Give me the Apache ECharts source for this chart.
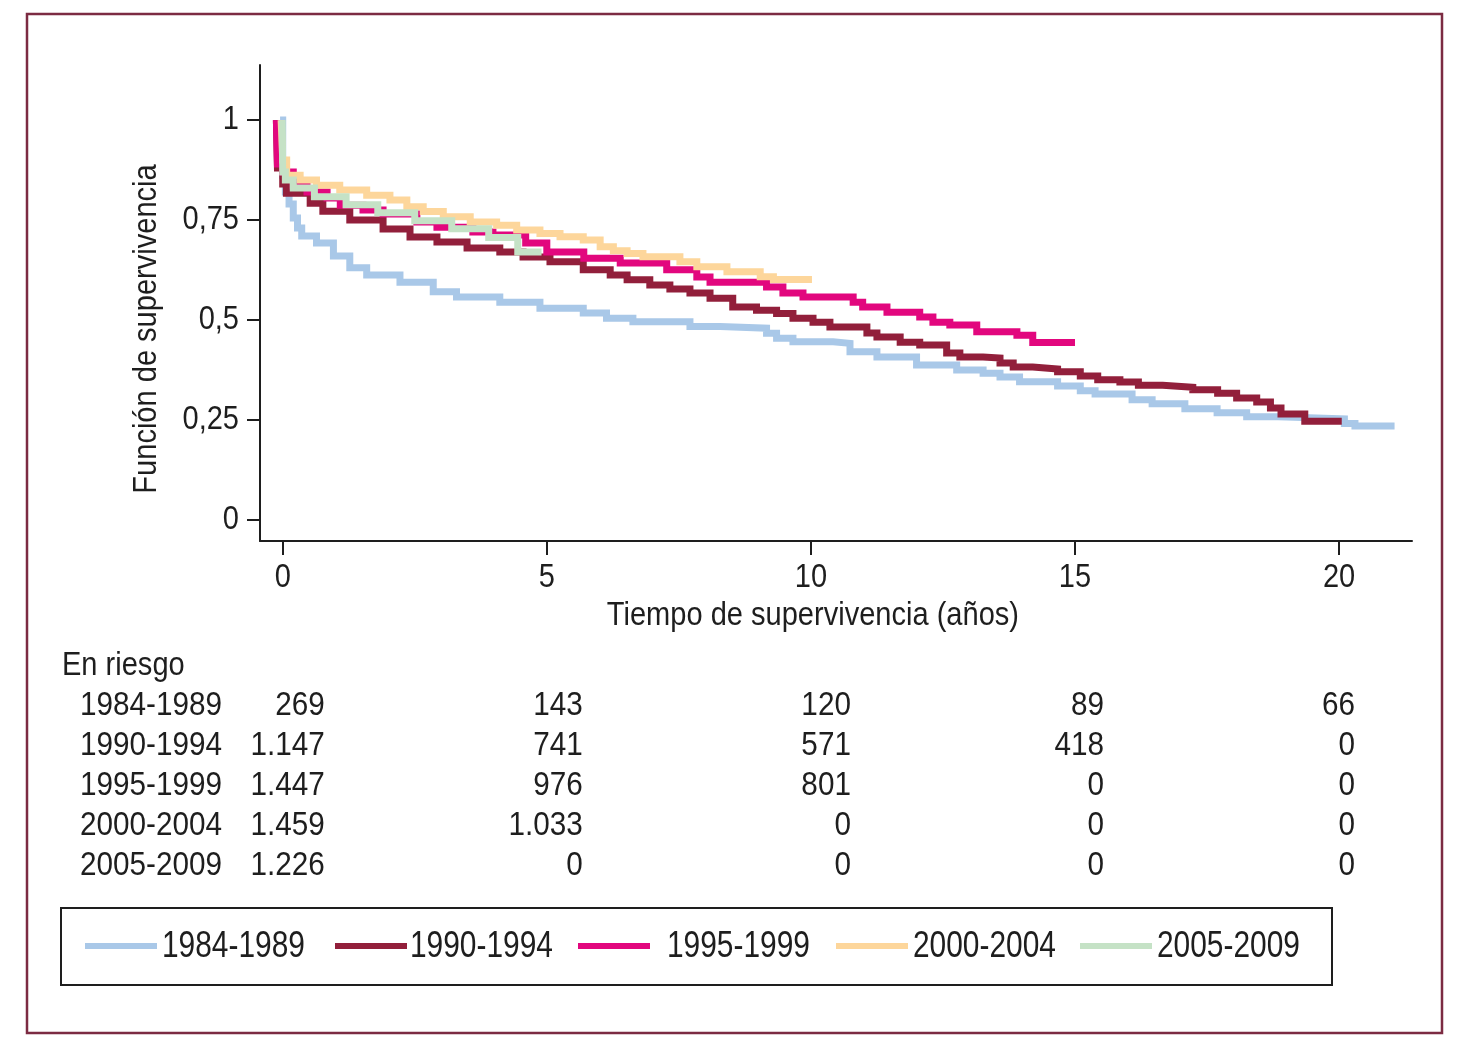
<!DOCTYPE html>
<html>
<head>
<meta charset="utf-8">
<script src="https://cdn.jsdelivr.net/npm/echarts@6/dist/echarts.min.js"></script>
<style>
html,body{margin:0;padding:0;background:#fff;}
#c{width:1470px;height:1062px;}
</style>
</head>
<body>
<div id="c"></div>
<script>
// ---- data ----
const periods = ['1984-1989','1990-1994','1995-1999','2000-2004','2005-2009'];
const colors = ['#a9c8e8','#921f3b','#e2077e','#fdd69b','#c5e2c6'];

const t1984 = [-0.05,0.0,0.05,0.12,0.2,0.28,0.36,0.64,0.96,1.27,1.59,2.22,2.85,3.29,4.11,4.87,5.69,6.13,6.63,7.71,8.28,9.16,9.35,9.66,10.42,10.74,11.25,12.0,12.76,13.26,13.58,13.95,14.67,15.1,15.38,16.08,16.46,17.08,17.69,18.25,18.84,20.1,20.3,21.05];
const s1984 = [1.0,0.862,0.82,0.79,0.755,0.73,0.71,0.692,0.66,0.63,0.612,0.594,0.57,0.557,0.544,0.529,0.517,0.504,0.495,0.483,0.479,0.466,0.454,0.445,0.441,0.42,0.407,0.387,0.374,0.366,0.357,0.345,0.334,0.322,0.314,0.30,0.29,0.277,0.267,0.257,0.252,0.24,0.234,0.234];

const t1990 = [-0.12,-0.1,0.0,0.07,0.52,0.76,1.27,1.9,2.41,2.92,3.49,4.11,4.55,5.06,5.69,6.2,6.52,6.95,7.33,7.71,8.09,8.52,8.97,9.35,9.66,10.04,10.36,11.06,11.25,11.69,12.06,12.57,12.82,13.26,13.58,13.83,14.2,14.67,15.1,15.43,15.85,16.2,16.66,17.23,17.7,18.06,18.44,18.7,18.9,19.35,20.05];
const s1990 = [1.0,0.88,0.84,0.817,0.792,0.772,0.75,0.727,0.707,0.695,0.68,0.67,0.657,0.645,0.625,0.612,0.6,0.587,0.577,0.567,0.554,0.532,0.524,0.516,0.504,0.494,0.482,0.467,0.457,0.444,0.437,0.417,0.407,0.404,0.392,0.382,0.377,0.37,0.359,0.35,0.344,0.336,0.331,0.325,0.316,0.304,0.294,0.279,0.264,0.246,0.246];

const t1995 = [-0.12,-0.1,0.0,0.2,0.46,0.84,1.09,1.52,1.9,2.54,2.92,3.6,3.98,4.6,5.0,5.7,6.39,7.27,7.84,8.09,9.16,9.47,9.85,10.8,10.98,11.44,12.06,12.31,12.63,13.14,13.9,14.2,15.0];
const s1995 = [1.0,0.89,0.87,0.837,0.82,0.805,0.787,0.775,0.765,0.745,0.732,0.72,0.712,0.692,0.67,0.654,0.642,0.625,0.607,0.594,0.582,0.567,0.557,0.544,0.532,0.519,0.507,0.494,0.487,0.47,0.461,0.443,0.443];

const t2000 = [-0.03,0.0,0.075,0.33,0.64,1.08,1.59,2.03,2.35,2.66,3.04,3.55,4.05,4.43,4.87,5.25,5.69,6.01,6.26,6.52,6.82,7.52,7.84,8.41,9.04,9.29,10.02];
const s2000 = [1.0,0.90,0.862,0.85,0.837,0.825,0.812,0.8,0.783,0.771,0.758,0.745,0.737,0.725,0.716,0.708,0.7,0.683,0.673,0.666,0.658,0.645,0.633,0.62,0.608,0.601,0.601];

const t2005 = [-0.01,0.0,0.05,0.2,0.6,1.2,1.8,2.5,3.2,3.9,4.45,4.9];
const s2005 = [1.0,0.87,0.85,0.83,0.808,0.788,0.768,0.748,0.728,0.706,0.67,0.67];

const seriesTimes = [t1984,t1990,t1995,t2000,t2005];
const seriesSurv = [s1984,s1990,s1995,s2000,s2005];

const xTicks = [0,5,10,15,20];
const xTickLabels = ['0','5','10','15','20'];
const yTicks = [0,0.25,0.5,0.75,1];
const yTickLabels = ['0','0,25','0,5','0,75','1'];

const riskTimes = [0,5,10,15,20];
const risk1984 = [269,143,120,89,66];
const risk1990 = [1147,741,571,418,0];
const risk1995 = [1447,976,801,0,0];
const risk2000 = [1459,1033,0,0,0];
const risk2005 = [1226,0,0,0,0];
const riskRows = [risk1984,risk1990,risk1995,risk2000,risk2005];

// ---- layout / style ----
const FONT = "'Liberation Sans',Arial,Helvetica,sans-serif";
const TXT = '#1e1e1e';
const SX = 0.88;       // horizontal condensation of the text
const FS = 33;
const fmtThousands = v => String(v).replace(/\B(?=(\d{3})+(?!\d))/g, '.');

const chart = echarts.init(document.getElementById('c'), null, {renderer:'canvas'});

const series = periods.map((name, i) => ({
  name: name,
  type: 'line',
  step: 'end',
  showSymbol: false,
  symbol: 'none',
  animation: false,
  lineStyle: {color: colors[i], width: 7, join: 'miter', cap: 'butt'},
  itemStyle: {color: colors[i]},
  data: seriesTimes[i].map((t, k) => [t, seriesSurv[i][k]]),
  z: 2 + i
}));

const option = {
  backgroundColor: '#fff',
  animation: false,
  grid: {left: 260, top: 65, right: 58, bottom: 521, containLabel: false},
  xAxis: {
    type: 'value', min: -0.43, max: 21.38,
    axisLine: {onZero: false, lineStyle: {color: '#1e1e1e', width: 2}},
    axisTick: {show: true, customValues: xTicks, length: 14, lineStyle: {color: '#1e1e1e', width: 2}},
    axisLabel: {show: false},
    splitLine: {show: false}
  },
  yAxis: {
    type: 'value', min: -0.054, max: 1.138,
    axisLine: {show: true, onZero: false, lineStyle: {color: '#1e1e1e', width: 2}},
    axisTick: {show: true, customValues: yTicks, length: 13, lineStyle: {color: '#1e1e1e', width: 2}},
    axisLabel: {show: false},
    splitLine: {show: false}
  },
  series: series
};
chart.setOption(option);

function txt(text, x, y, align, opts) {
  opts = opts || {};
  return {type:'text', x:x, y:y, scaleX: opts.sx || SX, scaleY: 1, rotation: opts.rot || 0, silent:true,
    style:{text:text, fill:TXT, font:(opts.fs || FS) + 'px ' + FONT, textAlign:align, textVerticalAlign:'middle'}};
}

const g = [];
// outer frame and legend frame
g.push({type:'rect', shape:{x:27, y:14, width:1415, height:1019}, style:{fill:'none', stroke:'#7c2b42', lineWidth:2.5}, silent:true});
g.push({type:'rect', shape:{x:61, y:908, width:1271, height:77}, style:{fill:'none', stroke:'#1e1e1e', lineWidth:2}, silent:true});

// tick labels positioned through the axis scales
const axisY = chart.convertToPixel({yAxisIndex:0}, -0.054);
xTicks.forEach((v, i) => {
  g.push(txt(xTickLabels[i], chart.convertToPixel({xAxisIndex:0}, v), axisY + 37, 'center'));
});
yTicks.forEach((v, i) => {
  g.push(txt(yTickLabels[i], 239, chart.convertToPixel({yAxisIndex:0}, v), 'right'));
});

// axis titles
g.push(txt('Función de supervivencia', 147, 329, 'center', {rot: Math.PI/2}));
g.push(txt('Tiempo de supervivencia (años)', chart.convertToPixel({xAxisIndex:0}, 10) + 2, 616, 'center'));

// number-at-risk table
g.push(txt('En riesgo', 62, 666, 'left'));
const colOffsets = [42, 36, 40, 29, 16];
const rowY0 = 706, rowStep = 40;
periods.forEach((p, r) => {
  const y = rowY0 + r * rowStep;
  g.push(txt(p, 80, y, 'left', {sx: 0.9}));
  riskTimes.forEach((t, c) => {
    const px = chart.convertToPixel({xAxisIndex:0}, t) + colOffsets[c];
    g.push(txt(fmtThousands(riskRows[r][c]), px, y, 'right', {sx: 0.9}));
  });
});

// legend
const legendLineX = [85, 335, 578, 836, 1080];
const legendTextX = [162, 410, 667, 913, 1157];
const legendY = 946;
periods.forEach((p, i) => {
  g.push({type:'line', silent:true, shape:{x1:legendLineX[i], y1:legendY, x2:legendLineX[i] + 72, y2:legendY},
    style:{stroke:colors[i], lineWidth:6}});
  g.push(txt(p, legendTextX[i], legendY + 1, 'left', {sx: 0.83, fs: 36}));
});

chart.setOption({graphic: g});
</script>
</body>
</html>
